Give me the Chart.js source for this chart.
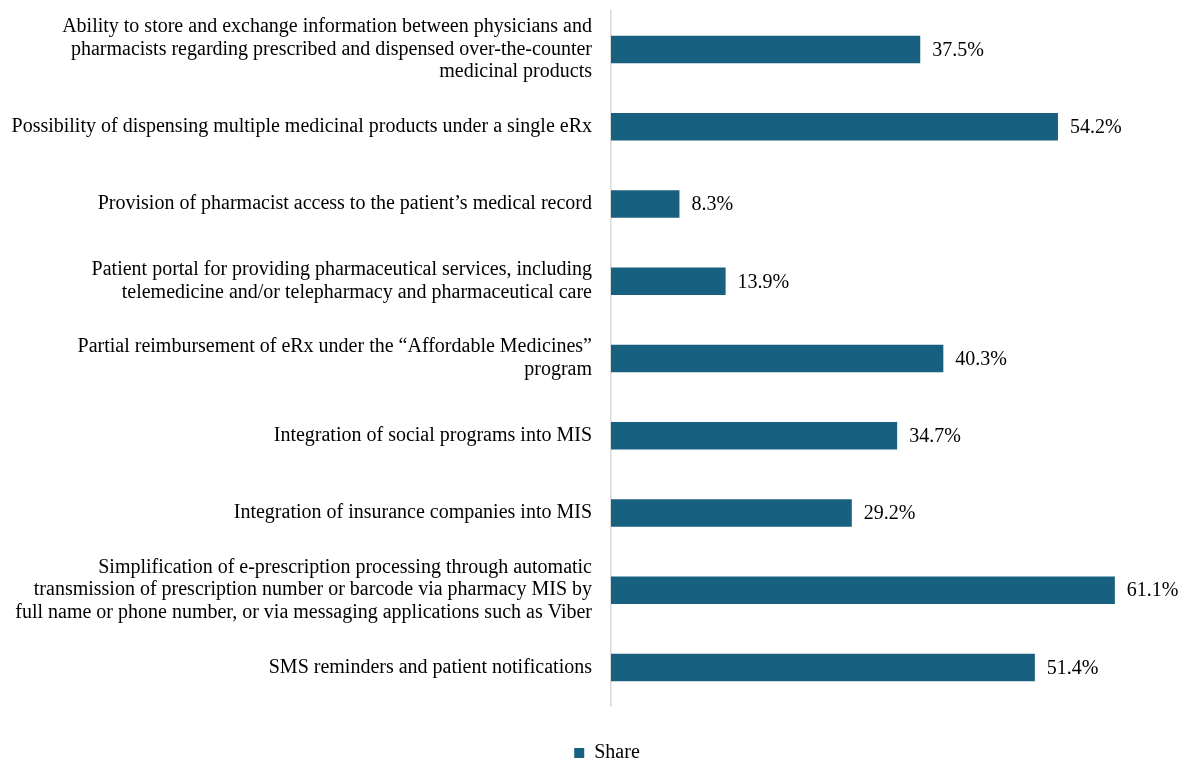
<!DOCTYPE html>
<html>
<head>
<meta charset="utf-8">
<style>
  html, body { margin: 0; padding: 0; background: #ffffff; }
  #wrap { width: 1184px; height: 758px; position: relative; }
</style>
<script src="https://cdn.jsdelivr.net/npm/chart.js@4.4.1/dist/chart.umd.min.js"></script>
</head>
<body>
<div id="wrap"><canvas id="chart"></canvas></div>
<script>
// Survey features (multi-line labels are split the way they wrap on the axis)
const categories = [
  ["Ability to store and exchange information between physicians and",
   "pharmacists regarding prescribed and dispensed over-the-counter",
   "medicinal products"],
  "Possibility of dispensing multiple medicinal products under a single eRx",
  "Provision of pharmacist access to the patient\u2019s medical record",
  ["Patient portal for providing pharmaceutical services, including",
   "telemedicine and/or telepharmacy and pharmaceutical care"],
  ["Partial reimbursement of eRx under the \u201cAffordable Medicines\u201d",
   "program"],
  "Integration of social programs into MIS",
  "Integration of insurance companies into MIS",
  ["Simplification of e-prescription processing through automatic",
   "transmission of prescription number or barcode via pharmacy MIS by",
   "full name or phone number, or via messaging applications such as Viber"],
  "SMS reminders and patient notifications"
];
const shareValues = [37.5, 54.2, 8.3, 13.9, 40.3, 34.7, 29.2, 61.1, 51.4];
const seriesName = "Share";

const FONT = "'Liberation Serif', 'Times New Roman', serif";
const BAR_COLOR = "#17607f";

// Writes the percentage just past the end of each bar
const valueLabels = {
  id: "valueLabels",
  afterDatasetsDraw(chart) {
    const ctx = chart.ctx;
    const meta = chart.getDatasetMeta(0);
    ctx.save();
    ctx.font = "20px " + FONT;
    ctx.fillStyle = "#000000";
    ctx.textAlign = "left";
    ctx.textBaseline = "middle";
    meta.data.forEach((bar, i) => {
      const v = chart.data.datasets[0].data[i];
      ctx.fillText(v.toFixed(1) + "%", bar.x + 12, bar.y + 1);
    });
    ctx.restore();
  }
};

// Nudges the legend box toward the plot's side and closer to the bottom edge
const legendOffset = {
  id: "legendOffset",
  afterLayout(chart) {
    const lg = chart.legend;
    if (!lg) return;
    lg.left += 17; lg.right += 17;
    lg.top += 15; lg.bottom += 15;
  }
};

new Chart(document.getElementById("chart"), {
  type: "bar",
  data: {
    labels: categories,
    datasets: [{
      label: seriesName,
      data: shareValues,
      backgroundColor: BAR_COLOR,
      borderWidth: 0,
      categoryPercentage: 1.0,
      barPercentage: 0.356
    }]
  },
  options: {
    indexAxis: "y",
    responsive: true,
    maintainAspectRatio: false,
    animation: false,
    layout: { padding: { top: 11, right: 4, bottom: 0, left: 0 } },
    scales: {
      x: {
        min: 0,
        max: 69,
        display: true,
        ticks: { display: false },
        grid: { display: false, drawTicks: false },
        border: { display: false },
        afterFit(scale) { scale.height = 22; }
      },
      y: {
        grid: { display: false, drawTicks: false },
        border: { display: true, color: "#d9d9d9", width: 1.5 },
        ticks: {
          color: "#000000",
          padding: 19,
          font: { family: FONT, size: 20, lineHeight: 1.13 }
        },
        afterFit(scale) {
          scale.width = 611;
          // long wrapped labels must not shrink the plot vertically
          scale.paddingTop = 0;
          scale.paddingBottom = 0;
        }
      }
    },
    plugins: {
      legend: {
        display: true,
        position: "bottom",
        labels: {
          color: "#000000",
          boxWidth: 10,
          boxHeight: 10,
          padding: 0,
          font: { family: FONT, size: 20 }
        }
      },
      tooltip: { enabled: false }
    }
  },
  plugins: [valueLabels, legendOffset]
});
</script>
</body>
</html>
